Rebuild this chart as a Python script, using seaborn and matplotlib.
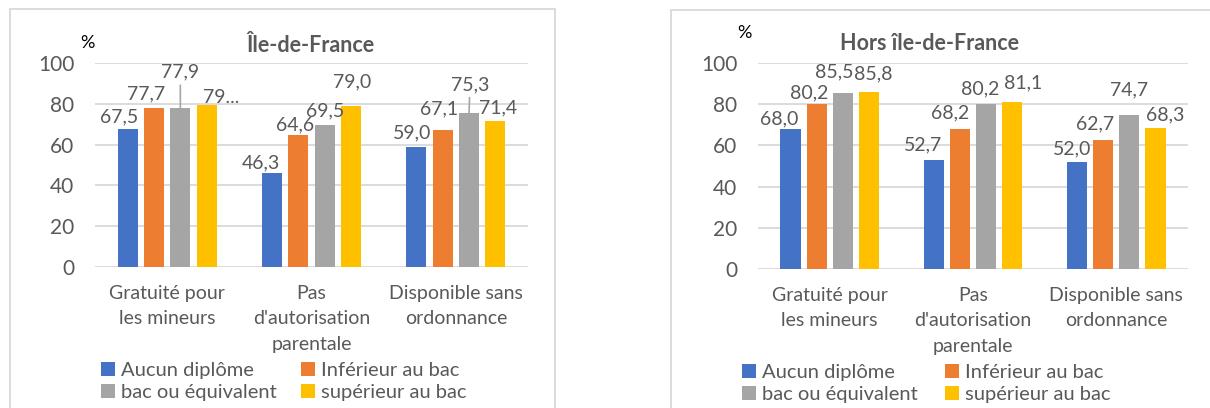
import matplotlib
matplotlib.use("Agg")
import matplotlib.pyplot as plt
from matplotlib.patches import Rectangle
import seaborn as sns
import pandas as pd

# ---- data ----
categories = ["Gratuité pour\nles mineurs", "Pas\nd'autorisation\nparentale", "Disponible sans\nordonnance"]
levels = ["Aucun diplôme", "Inférieur au bac", "bac ou équivalent", "supérieur au bac"]
idf_aucun = [67.5, 46.3, 59.0]
idf_inf = [77.7, 64.6, 67.1]
idf_bac = [77.9, 69.5, 75.3]
idf_sup = [79.4, 79.0, 71.4]
hors_aucun = [68.0, 52.7, 52.0]
hors_inf = [80.2, 68.2, 62.7]
hors_bac = [85.5, 80.2, 74.7]
hors_sup = [85.8, 81.1, 68.3]
idf_label_override = {(3, 0): "79..."}
hors_label_override = {}
yticks = [0, 20, 40, 60, 80, 100]
titles = ["Île-de-France", "Hors île-de-France"]

colors = ["#4472C4", "#ED7D31", "#A5A5A5", "#FFC000"]
TXT = "#595959"
GRID = "#D9D9D9"

# label offsets in pixels (dx, dy from bar top to label centre), per hue then category
idf_off = [[(-9, 12), (-11, 10), (-4, 14)],
           [(-8, 15), (-3, 10), (-4, 21)],
           [(0, 36), (0, 14), (1, 29)],
           [(15, 8), (1, 24), (3, 13)]]
idf_leader = {(2, 0), (2, 2)}
hors_off = [[(-11, 10), (-11, 16), (-5, 13)],
            [(-7, 11), (-10, 16), (-8, 16)],
            [(-8, 21), (-6, 15), (0, 25)],
            [(4, 18), (11, 19), (10, 13)]]
hors_leader = set()


def make_df(a, b, c, d):
    rows = []
    for lev, vals in zip(levels, [a, b, c, d]):
        for cat, v in zip(categories, vals):
            rows.append({"cat": cat, "level": lev, "value": v})
    return pd.DataFrame(rows)


sns.set_style("white")
plt.rcParams["font.family"] = ["Lato", "DejaVu Sans"]

W, H = 1210, 408
fig = plt.figure(figsize=(W / 100, H / 100), dpi=100)
fig.patch.set_facecolor("white")

# panel borders
fig.add_artist(Rectangle((10 / W, -0.01), (555 - 10) / W, 1 - 9 / H + 0.01,
                         transform=fig.transFigure, fill=False, edgecolor=GRID, lw=1.3))
fig.add_artist(Rectangle((671 / W, -0.01), (1230 - 671) / W, 1 - 10 / H + 0.01,
                         transform=fig.transFigure, fill=False, edgecolor=GRID, lw=1.3))

panels = [
    dict(df=make_df(idf_aucun, idf_inf, idf_bac, idf_sup), x0=95, x1=528, y0=63, y1=267,
         off=idf_off, leader=idf_leader, over=idf_label_override, title_x=311, title_y=45,
         pct=(87, 43), leg_x=(101, 301), leg_y=(371, 393)),
    dict(df=make_df(hors_aucun, hors_inf, hors_bac, hors_sup), x0=758, x1=1188, y0=63, y1=269,
         off=hors_off, leader=hors_leader, over=hors_label_override, title_x=929, title_y=44,
         pct=(744, 33), leg_x=(742, 945), leg_y=(373, 395)),
]

for k, p in enumerate(panels):
    ax = fig.add_axes([p["x0"] / W, 1 - p["y1"] / H, (p["x1"] - p["x0"]) / W, (p["y1"] - p["y0"]) / H])
    sns.barplot(data=p["df"], x="cat", y="value", hue="level", hue_order=levels,
                order=categories, palette=colors, saturation=1, width=0.73, gap=0.23,
                linewidth=0, ax=ax, legend=True)
    handles = ax.get_legend().legend_handles
    ax.get_legend().remove()
    ax.set_ylim(0, 100)
    ax.set_yticks(yticks)
    ax.set_xticks(range(len(categories)))
    ax.set_xticklabels(categories, linespacing=1.6, va="top")
    ax.set_xlabel("")
    ax.set_ylabel("")
    for s in ax.spines.values():
        s.set_visible(False)
    ax.grid(axis="y", color=GRID, lw=1.3)
    ax.set_axisbelow(True)
    ax.tick_params(axis="y", length=0, pad=15, labelsize=15, labelcolor=TXT)
    ax.tick_params(axis="x", length=0, pad=13, labelsize=14, labelcolor=TXT)

    for i, cont in enumerate(ax.containers):
        for j, bar in enumerate(cont):
            v = bar.get_height()
            txt = p["over"].get((i, j), f"{v:.1f}".replace(".", ","))
            dx, dy = p["off"][i][j]
            xc = bar.get_x() + bar.get_width() / 2
            kw = {}
            if (i, j) in p["leader"]:
                kw["arrowprops"] = dict(arrowstyle="-", color="#A6A6A6", lw=1.2,
                                        shrinkA=1, shrinkB=0)
            ax.annotate(txt, xy=(xc, v), xytext=(dx, dy), textcoords="offset pixels",
                        ha="center", va="center", fontsize=14, color=TXT,
                        annotation_clip=False, **kw)

    fig.text(p["title_x"] / W, 1 - p["title_y"] / H, titles[k], ha="center", va="center",
             fontsize=15.5, fontweight="bold", color=TXT)
    fig.text(p["pct"][0] / W, 1 - p["pct"][1] / H, "%", ha="center", va="center",
             fontsize=13, color="black")

    # legend: two columns placed separately
    for col in range(2):
        idx = [col, col + 2]
        fig.legend([handles[n] for n in idx], [levels[n] for n in idx],
                   loc="upper left",
                   bbox_to_anchor=(p["leg_x"][col] / W, 1 - (p["leg_y"][0] - 9) / H),
                   bbox_transform=fig.transFigure, frameon=False, fontsize=14.5,
                   handlelength=0.7, handleheight=0.7, handletextpad=0.3,
                   labelspacing=0.22, borderpad=0, borderaxespad=0,
                   labelcolor=TXT)

fig.savefig("out.png", dpi=100, facecolor="white")
